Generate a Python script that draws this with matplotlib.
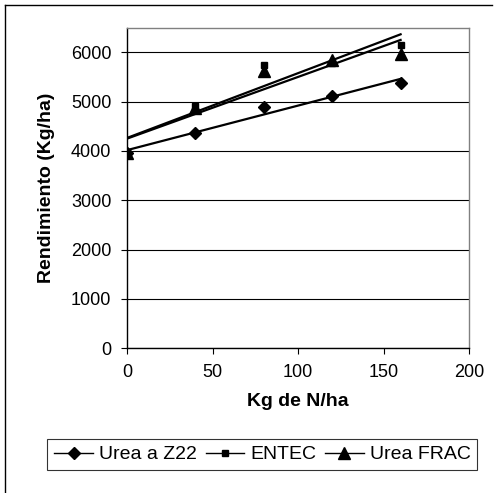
import matplotlib
matplotlib.use('Agg')
import matplotlib.pyplot as plt
from matplotlib.lines import Line2D
import numpy as np

plt.rcParams['font.family'] = ['Liberation Sans', 'DejaVu Sans']

# Data
dosis = [0, 40, 80, 120, 160]
urea_z22 = [3950, 4360, 4880, 5120, 5375]
entec = [3970, 4900, 5750, 5790, 6150]
urea_frac = [3950, 4870, 5610, 5850, 5960]

series_names = ['Urea a Z22', 'ENTEC', 'Urea FRAC']
series_markers = ['D', 's', '^']
series_sizes = [6.5, 4.5, 8]
x_ticks = [0, 50, 100, 150, 200]
y_ticks = [0, 1000, 2000, 3000, 4000, 5000, 6000]

fig = plt.figure(figsize=(4.96, 4.93), dpi=100)
ax = fig.add_axes([127/496, 1-348.3/493, 342/496, 320.8/493])

x = np.array(dosis)
for vals, m, ms in zip([urea_z22, entec, urea_frac], series_markers, series_sizes):
    # markers only, plus linear trendline like the original
    ax.plot(dosis, vals, linestyle='none', marker=m, markersize=ms, color='black', zorder=3)
    coef = np.polyfit(x, vals, 1)
    ax.plot(dosis, np.polyval(coef, x), color='black', linewidth=1.6, zorder=2)

ax.set_xlim(0, 200)
ax.set_ylim(0, 6500)
ax.set_xticks(x_ticks)
ax.set_yticks(y_ticks)
ax.yaxis.grid(True, color='black', linewidth=0.8)
ax.set_axisbelow(True)
ax.tick_params(direction='out', length=4.3, width=0.8, labelsize=13, colors='black', pad=7)

for s in ['top', 'right']:
    ax.spines[s].set_color('#808080')
    ax.spines[s].set_linewidth(1)
for s in ['left', 'bottom']:
    ax.spines[s].set_color('black')
    ax.spines[s].set_linewidth(1)

ax.set_xlabel('Kg de N/ha', fontsize=14, fontweight='bold')
ax.set_ylabel('Rendimiento (Kg/ha)', fontsize=14, fontweight='bold')
ax.xaxis.set_label_coords(0.5, -0.139)
ax.yaxis.set_label_coords(-0.21, 0.5)

handles = [Line2D([0], [0], color='black', linewidth=1, marker=m, markersize=ms)
           for m, ms in zip(series_markers, series_sizes)]
leg = fig.legend(handles, series_names, loc='center', bbox_to_anchor=(0.529, 0.078),
                 ncol=3, fontsize=14, frameon=True, fancybox=False, edgecolor='black',
                 handlelength=2.0, handletextpad=0.3, columnspacing=0.45, borderpad=0.35,
                 borderaxespad=0)
leg.get_frame().set_linewidth(0.8)

# outer chart border (only left/top visible in the original crop)
fig.add_artist(Line2D([5/496, 492/496], [1-5/493, 1-5/493], color='black', linewidth=1))
fig.add_artist(Line2D([5/496, 5/496], [0, 1-5/493], color='black', linewidth=1))

fig.savefig('out.png', dpi=100)
